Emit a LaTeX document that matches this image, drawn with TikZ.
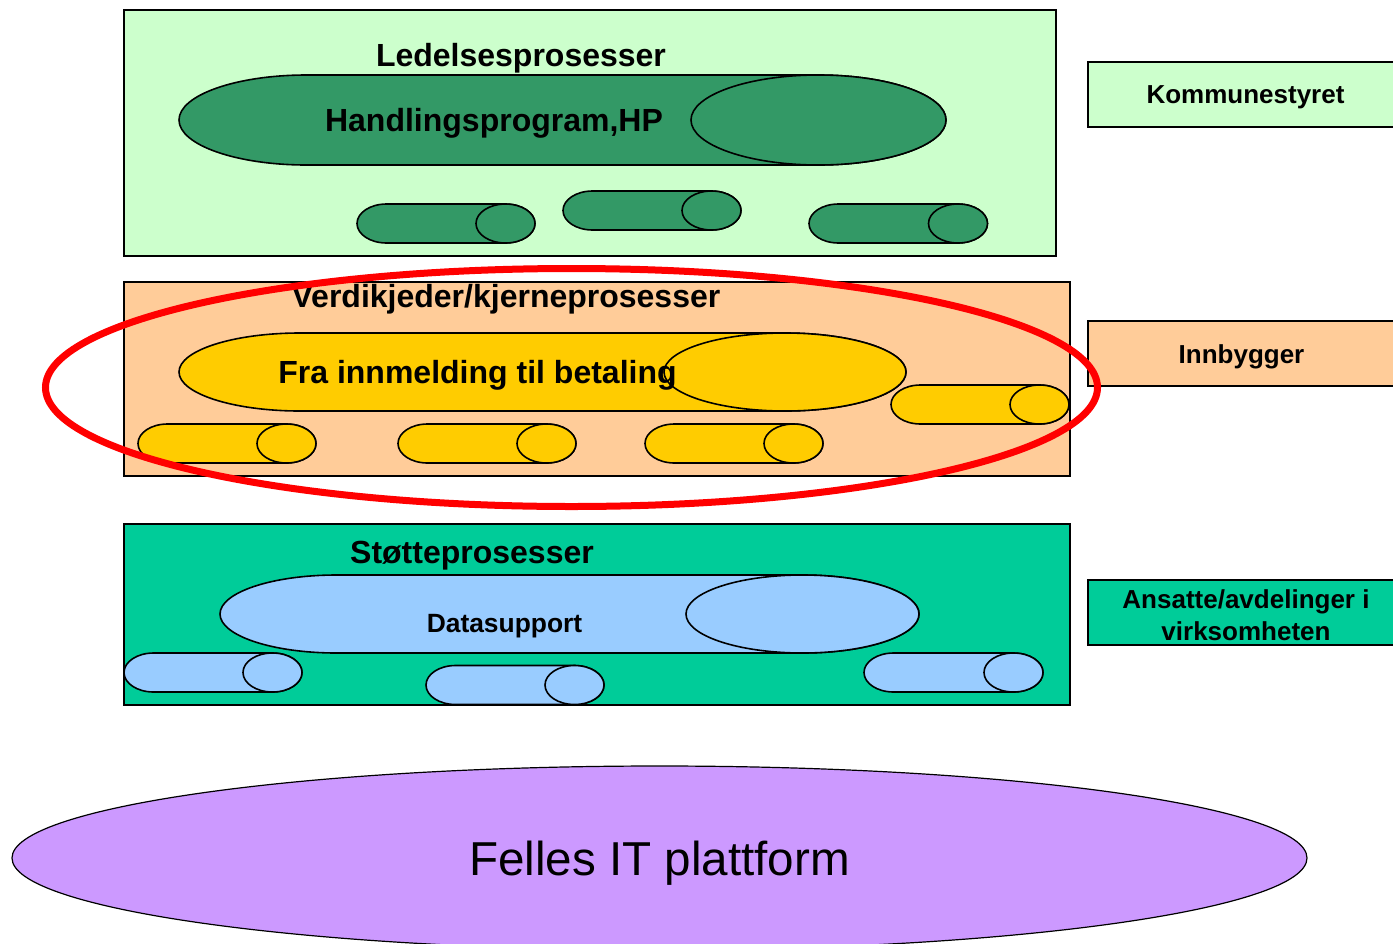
\documentclass[tikz,border=0pt]{standalone}
\usepackage{fontspec}
\setmainfont{Liberation Sans}
\definecolor{leadgreen}{HTML}{CCFFCC}
\definecolor{darkgreen}{HTML}{339966}
\definecolor{peach}{HTML}{FFCC99}
\definecolor{corn}{HTML}{FFCC00}
\definecolor{teal}{HTML}{00CC99}
\definecolor{skyblue}{HTML}{99CCFF}
\definecolor{lilac}{HTML}{CC99FF}
\tikzset{
  layer box/.style={
    draw,
    line width=1pt,
  },
  side box/.style={
    draw,
    line width=1pt,
    minimum width=157.5pt,
    minimum height=32.5pt,
  },
  side text/.style={align=center, font=\bfseries\fontsize{13}{16}\selectfont},
  title text/.style={font=\bfseries\fontsize{16}{19}\selectfont},
  roll line/.style={draw, line width=0.8pt},
}
% left centre, right centre, centre y, x radius, y radius, colour
\newcommand\roll[6]{%
  \filldraw[roll line, fill=#6] (#1,#3-#5) -- (#2,#3-#5)
    arc[start angle=270, end angle=450, x radius=#4, y radius=#5]
    -- (#1,#3+#5)
    arc[start angle=90, end angle=270, x radius=#4, y radius=#5] -- cycle;
  \filldraw[roll line, fill=#6] (#2,#3) ellipse[x radius=#4, y radius=#5];
}

\begin{document}
\begin{tikzpicture}[x=0.5pt, y=-0.5pt]
      \clip (0,0) rectangle (1393,943);

      \draw[layer box, fill=leadgreen] (124,10)  rectangle (1056,256);
      \draw[layer box, fill=peach]     (124,282) rectangle (1070,476);
      \draw[layer box, fill=teal]      (124,524) rectangle (1070,705);

      \node[side box, fill=leadgreen] (styre)   at (1245.5,94.5)  {};
      \node[side box, fill=peach]     (innb)    at (1245.5,353.5) {};
      \node[side box, fill=teal]      (ansatte) at (1245.5,612.5) {};
      \node[side text] (styre text)   at (1245.5,97.5) {Kommunestyret};
      \node[side text] (innb text)    at (1241.5,356.5) {Innbygger};
      \node[side text] (ansatte text) at (1246,615) {Ansatte/avdelinger i\\virksomheten};

      \roll{306.5}{818.5}{120}{127.5}{45}{darkgreen}
      \roll{386.5}{505.5}{223.5}{29.5}{19.5}{darkgreen}
      \roll{592.5}{711.5}{210.5}{29.5}{19.5}{darkgreen}
      \roll{838.5}{958}{223.5}{29.5}{19.5}{darkgreen}

      \roll{300}{785}{372}{121}{39}{corn}
      \roll{920.5}{1039.5}{404.5}{29.5}{19.5}{corn}
      \roll{167.5}{286.5}{443.5}{29.5}{19.5}{corn}
      \roll{427.5}{546.5}{443.5}{29.5}{19.5}{corn}
      \roll{674.5}{793.5}{443.5}{29.5}{19.5}{corn}

      \roll{336.5}{802.5}{614}{116.5}{39}{skyblue}
      \roll{153.5}{272.5}{672.5}{29.5}{19.5}{skyblue}
      \roll{455.5}{574.5}{685}{29.5}{19.5}{skyblue}
      \roll{893.5}{1013.5}{672.5}{29.5}{19.5}{skyblue}

      \node[title text] (lead)   at (521,58)    {Ledelsesprosesser};
      \node[title text] (hp)     at (494,123)   {Handlingsprogram,HP};
      \node[title text] (verdi)  at (506,299)   {Verdikjeder/kjerneprosesser};
      \node[title text] (fra)    at (477.5,375) {Fra innmelding til betaling};
      \node[title text] (stotte) at (472,556)   {Støtteprosesser};
      \node[font=\bfseries\fontsize{13.2}{16}\selectfont] (data) at (504.5,626) {Datasupport};

      \draw[red, line width=3.5pt] (571.5,387.5) ellipse[x radius=526, y radius=119];

      \filldraw[fill=lilac, line width=0.6pt] (659.5,858) ellipse[x radius=647.5, y radius=92];
      \node[font=\fontsize{23.8}{28}\selectfont] (felles) at (659.5,863) {Felles IT plattform};
    \end{tikzpicture}
\end{document}
